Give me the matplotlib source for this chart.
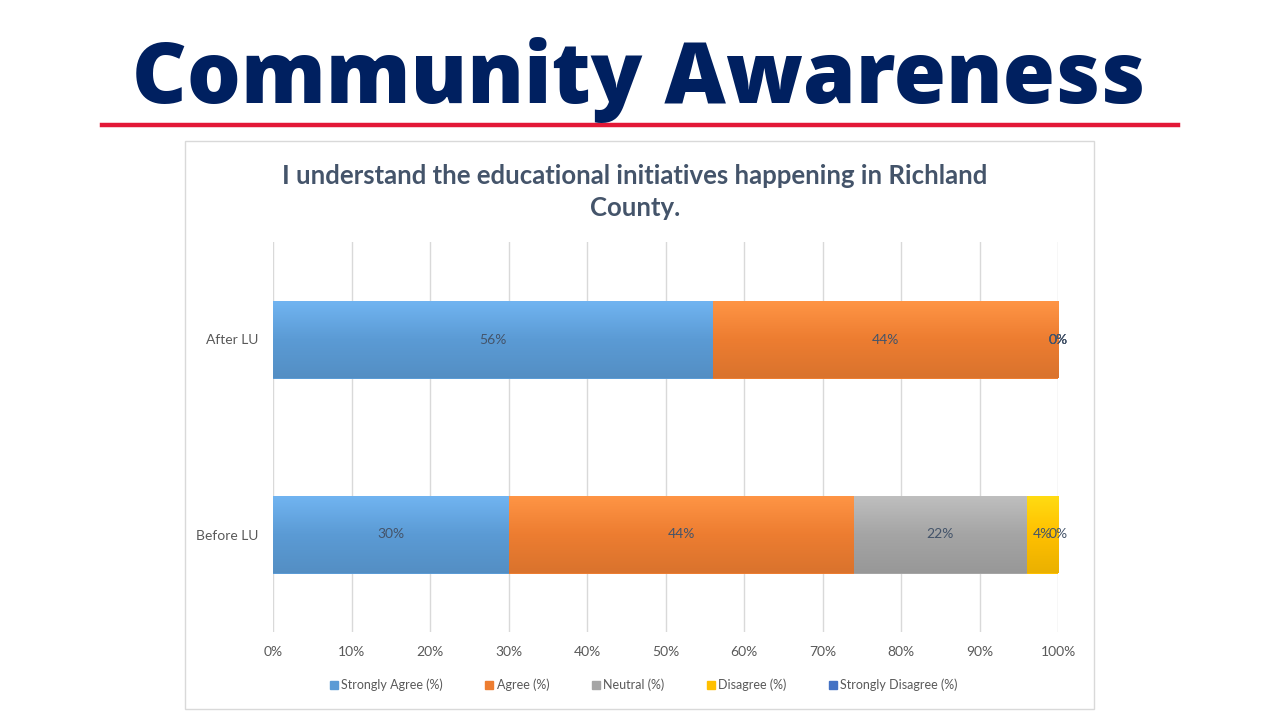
import numpy as np
import matplotlib.pyplot as plt
from matplotlib.patches import Rectangle
from matplotlib.lines import Line2D
from matplotlib.colors import LinearSegmentedColormap, to_rgb

# survey data (percent)
groups = ['Before LU', 'After LU']
series = ['Strongly Agree (%)', 'Agree (%)', 'Neutral (%)', 'Disagree (%)', 'Strongly Disagree (%)']
strongly_agree = [30, 56]
agree = [44, 44]
neutral = [22, 0]
disagree = [4, 0]
strongly_disagree = [0, 0]
values = [strongly_agree, agree, neutral, disagree, strongly_disagree]
colors = ['#5B9BD5', '#ED7D31', '#A5A5A5', '#FFC000', '#4472C4']

heading = 'Community Awareness'
chart_title = 'I understand the educational initiatives happening in Richland\nCounty.'

W, H = 1280, 720
fig = plt.figure(figsize=(12.8, 7.2), dpi=100)
fig.patch.set_facecolor('white')


def px(x, y):
    return x / W, 1 - y / H


# slide heading + red rule
fig.text(*px(639, 80), heading, ha='center', va='center', fontsize=61,
         family='Open Sans', fontweight='heavy', color='#002060')
fig.add_artist(Line2D([102 / W, 1178 / W], [1 - 125 / H] * 2, color='#E31837', lw=3.2))

# chart area frame (behind the axes)
x0, y0 = px(185, 709)
x1, y1 = px(1094, 141)
fig.add_artist(Rectangle((x0, y0), x1 - x0, y1 - y0, transform=fig.transFigure,
                         facecolor='white', edgecolor='#D9D9D9', lw=1, zorder=-5))

fig.text(*px(635, 192), chart_title, ha='center', va='center', fontsize=18.5,
         family='Lato', fontweight='bold', color='#44546A', linespacing=1.42)

left, top = px(273, 242)
right, bottom = px(1058, 632)
ax = fig.add_axes([left, bottom, right - left, top - bottom])

ypos = np.arange(len(groups))
bar_h = 0.4
cum = np.zeros(len(groups))
for name, vals, c in zip(series, values, colors):
    vals = np.array(vals, dtype=float)
    bars = ax.barh(ypos, vals, left=cum, height=bar_h, color=c, label=name,
                   edgecolor='none', zorder=2)
    # soft vertical gradient: lighter on top, darker at the bottom
    base = np.array(to_rgb(c))
    cmap = LinearSegmentedColormap.from_list(
        'g', [np.clip(base * 1.05 + 0.07, 0, 1), base, base * 0.92])
    for b in bars:
        if b.get_width() <= 0:
            continue
        bx, by = b.get_x(), b.get_y()
        im = ax.imshow(np.linspace(1, 0, 64).reshape(-1, 1), cmap=cmap, aspect='auto',
                       extent=[bx, bx + b.get_width(), by, by + b.get_height()],
                       origin='lower', zorder=2.5)
        im.set_clip_path(b)
    for i, v in enumerate(vals):
        ax.text(cum[i] + v / 2, ypos[i], f'{v:.0f}%', ha='center', va='center',
                fontsize=10, family='Lato', color='#44546A', zorder=4)
    cum += vals

ax.set_xlim(0, 100)
ax.set_ylim(-0.5, len(groups) - 0.5)
ax.set_aspect('auto')
ax.set_xticks(np.arange(0, 101, 10))
ax.set_xticklabels([f'{t}%' for t in range(0, 101, 10)])
ax.set_yticks(ypos)
ax.set_yticklabels(groups)
ax.tick_params(length=0, labelsize=10, labelcolor='#595959')
ax.tick_params(axis='x', pad=10)
ax.tick_params(axis='y', pad=10.5)
for lab in ax.get_xticklabels() + ax.get_yticklabels():
    lab.set_family('Lato')
ax.xaxis.grid(True, color='#D9D9D9', lw=1, zorder=0)
ax.set_axisbelow(True)
for s in ax.spines.values():
    s.set_visible(False)
ax.patch.set_alpha(0)

handles = [Line2D([], [], marker='s', ls='none', markersize=6, color=c) for c in colors]
fig.legend(handles, series, loc='center', bbox_to_anchor=px(642, 685), ncol=5,
           frameon=False, handletextpad=0.0, columnspacing=3.1, handlelength=1.2,
           prop={'family': 'Lato', 'size': 9}, labelcolor='#595959')

fig.savefig('out.png', dpi=100, facecolor='white')
